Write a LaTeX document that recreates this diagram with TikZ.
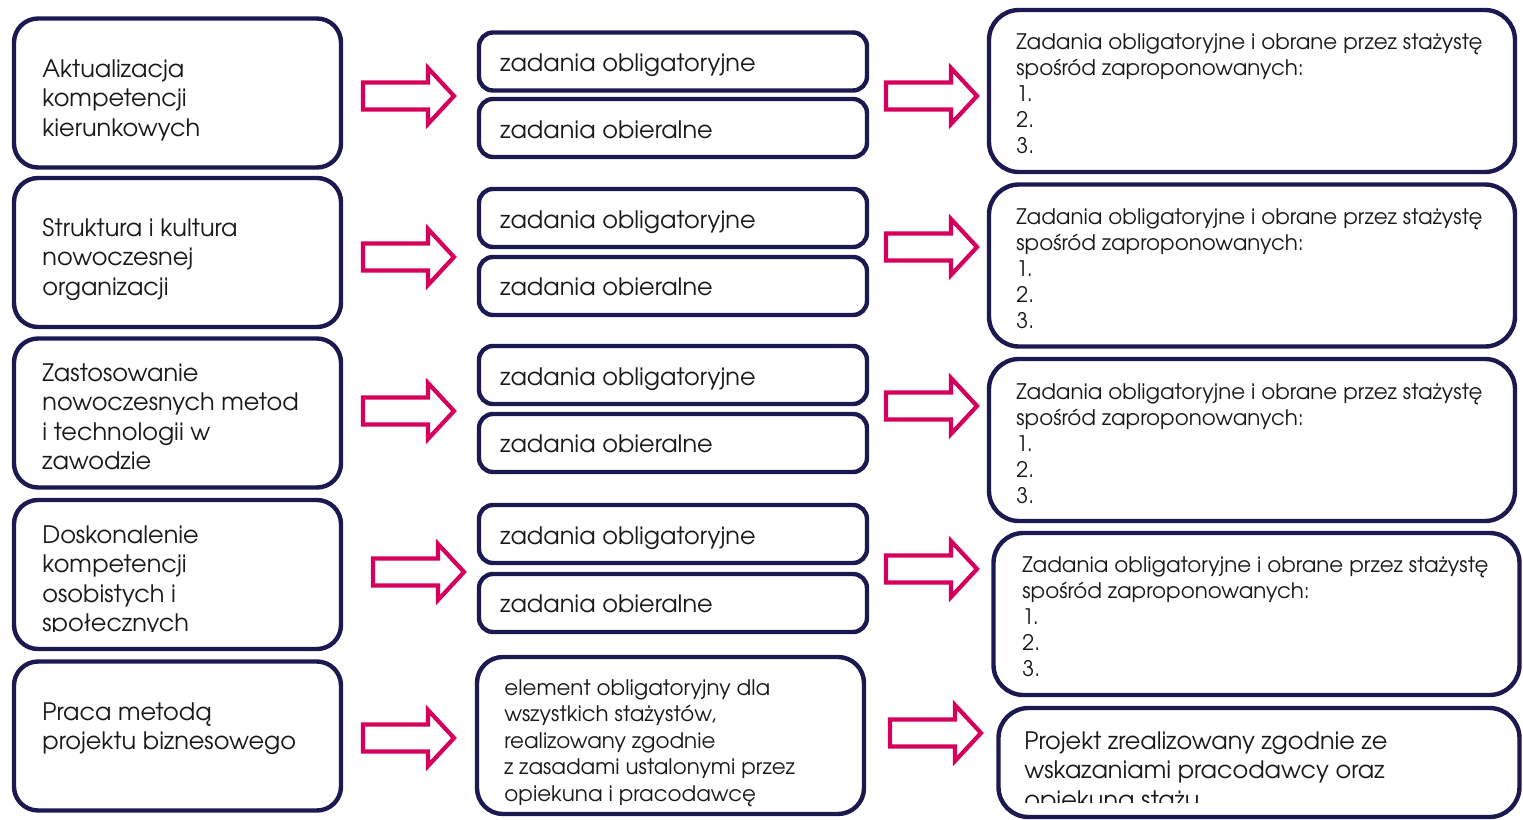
\documentclass[tikz,border=0pt]{standalone}
\usepackage{fontspec}
\setmainfont{TeX Gyre Adventor}
\usetikzlibrary{calc}
\definecolor{navy}{RGB}{27,25,80}
\definecolor{pinkarrow}{RGB}{214,0,92}
\definecolor{txt}{RGB}{25,25,25}
\newcommand\ml[1]{\vtop{\halign{##\hfil\cr#1\crcr}}}
\tikzset{
  box/.style={draw=navy, line width=2.2pt, fill=white, inner sep=0pt},
  leftbox/.style={box, rounded corners=12pt, minimum width=163.5pt, minimum height=74.5pt},
  midbox/.style={box, rounded corners=7pt, minimum width=194pt, minimum height=29pt},
  bigmid/.style={box, rounded corners=13pt, minimum width=193.5pt, minimum height=78.5pt},
  rightbox/.style={box, rounded corners=15pt, minimum width=263pt, minimum height=81pt},
  txtA/.style={anchor=base west, inner sep=0pt, text=txt, font=\fontsize{12}{14.75}\selectfont},
  txtB/.style={anchor=base west, inner sep=0pt, text=txt, font=\fontsize{10.7}{13}\selectfont},
  txtC/.style={anchor=base west, inner sep=0pt, text=txt, font=\fontsize{10.7}{13.25}\selectfont},
  arrowline/.style={draw=pinkarrow, line width=2.1pt, fill=white, miter limit=10},
  blockarrow/.pic={\draw[arrowline] (2,-13.5) -- (67,-13.5) -- (67,-28) -- (93,0) -- (67,28) -- (67,13.5) -- (2,13.5) -- cycle;}
}
\begin{document}
\begin{tikzpicture}[x=0.5pt,y=-0.5pt]
\useasboundingbox (0,0) rectangle (1523,820);
% left column
\node[leftbox] (L1) at (177.5,93) {};
\node[leftbox] (L2) at (177.5,252.5) {};
\node[leftbox] (L3) at (177.5,413) {};
\node[leftbox] (L4) at (177.5,574.5) {};
\node[leftbox] (L5) at (177.5,736) {};
\node[txtA] (tL1) at (42,77) {\ml{Aktualizacja\cr kompetencji\cr kierunkowych}};
\node[txtA] (tL2) at (42,236) {\ml{Struktura i kultura\cr nowoczesnej\cr organizacji}};
\node[txtA] (tL3) at (42,381) {\ml{Zastosowanie\cr nowoczesnych metod\cr i technologii w\cr zawodzie}};
\begin{scope}
\clip (0,0) rectangle (1523,631);
\node[txtA] (tL4) at (42,543) {\ml{Doskonalenie\cr kompetencji\cr osobistych i\cr społecznych}};
\end{scope}
\node[txtA] (tL5) at (42,720) {\ml{Praca metodą\cr projektu biznesowego}};
% middle column
\node[midbox] (M1a) at (673,61.5) {};
\node[midbox] (M1b) at (673,128) {};
\node[midbox] (M2a) at (673,218) {};
\node[midbox] (M2b) at (673,286) {};
\node[midbox] (M3a) at (673,375) {};
\node[midbox] (M3b) at (673,443) {};
\node[midbox] (M4a) at (673,534) {};
\node[midbox] (M4b) at (673,603) {};
\node[bigmid] (M5) at (670.5,735.5) {};
\node[txtA] (tM1a) at (500,71) {zadania obligatoryjne};
\node[txtA] (tM1b) at (500,138) {zadania obieralne};
\node[txtA] (tM2a) at (500,228) {zadania obligatoryjne};
\node[txtA] (tM2b) at (500,295) {zadania obieralne};
\node[txtA] (tM3a) at (500,385) {zadania obligatoryjne};
\node[txtA] (tM3b) at (500,452) {zadania obieralne};
\node[txtA] (tM4a) at (500,544) {zadania obligatoryjne};
\node[txtA] (tM4b) at (500,612) {zadania obieralne};
\node[txtC] (tM5) at (504,695) {\ml{element obligatoryjny dla\cr wszystkich stażystów,\cr realizowany zgodnie\cr z zasadami ustalonymi przez\cr opiekuna i pracodawcę}};
% right column
\node[rightbox] (R1) at (1252,91) {};
\node[rightbox] (R2) at (1252,265.5) {};
\node[rightbox] (R3) at (1252,440) {};
\node[rightbox] (R4) at (1256.5,614) {};
\node[rightbox, minimum width=260.5pt, minimum height=54.5pt] (R5) at (1259,762.5) {};
\node[txtB] (tR1) at (1016,49) {\ml{Zadania obligatoryjne i obrane przez stażystę\cr spośród zaproponowanych:\cr 1.\cr 2.\cr 3.}};
\node[txtB] (tR2) at (1016,224) {\ml{Zadania obligatoryjne i obrane przez stażystę\cr spośród zaproponowanych:\cr 1.\cr 2.\cr 3.}};
\node[txtB] (tR3) at (1016,399) {\ml{Zadania obligatoryjne i obrane przez stażystę\cr spośród zaproponowanych:\cr 1.\cr 2.\cr 3.}};
\node[txtB] (tR4) at (1022,572) {\ml{Zadania obligatoryjne i obrane przez stażystę\cr spośród zaproponowanych:\cr 1.\cr 2.\cr 3.}};
\begin{scope}
\clip (0,0) rectangle (1523,802);
\node[txtA] (tR5) at (1024,749) {\ml{Projekt zrealizowany zgodnie ze\cr wskazaniami pracodawcy oraz\cr opiekuna stażu}};
\end{scope}
% arrows
\pic at (361,96) {blockarrow};
\pic at (361,257) {blockarrow};
\pic at (361,411) {blockarrow};
\pic at (371,572) {blockarrow};
\pic at (361,738) {blockarrow};
\pic at (884,96) {blockarrow};
\pic at (884,247) {blockarrow};
\pic at (884,406) {blockarrow};
\pic at (884,569) {blockarrow};
\pic at (888,733) {blockarrow};
\end{tikzpicture}
\end{document}
